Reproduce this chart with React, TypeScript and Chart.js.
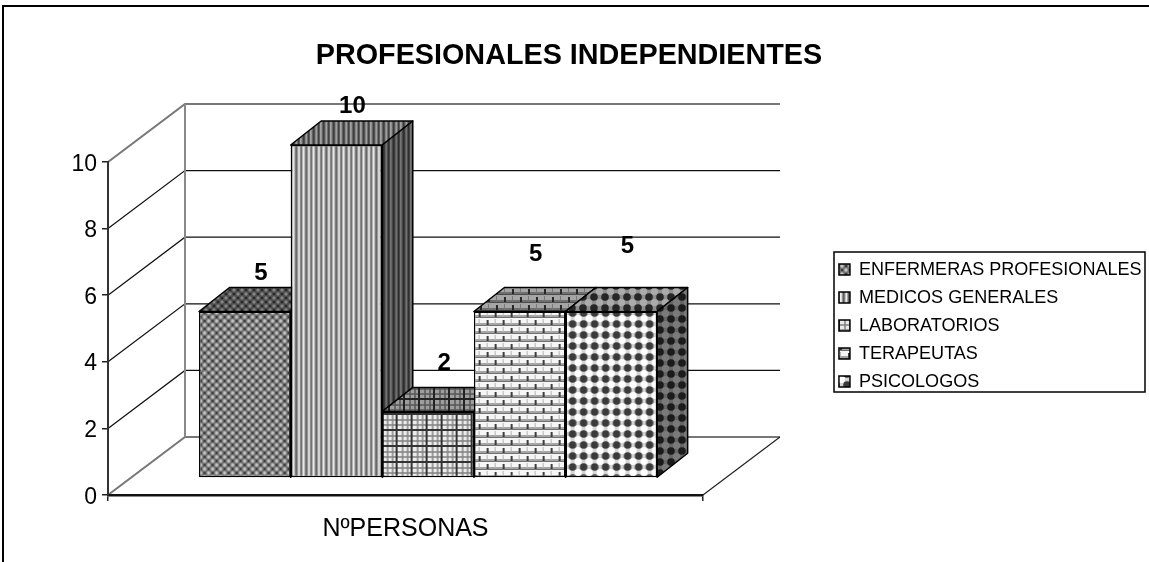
import React, { useEffect, useRef } from "react";
import { Chart, registerables } from "chart.js";

Chart.register(...registerables);

const categories = ["NºPERSONAS"];
const seriesNames = ["ENFERMERAS PROFESIONALES", "MEDICOS GENERALES", "LABORATORIOS", "TERAPEUTAS", "PSICOLOGOS"];
const seriesValues = [5, 10, 2, 5, 5];
const titleText = "PROFESIONALES INDEPENDIENTES";
const yTicks = [0, 2, 4, 6, 8, 10];

const FONT = "'Liberation Sans', Arial, sans-serif";
const WALL = { dx: 77, dy: -58 };
const BAR_SHIFT = { dx: 22.6, dy: -17 };
const BAR_DEPTH = { dx: 30.5, dy: -24 };
const LABEL_LIFT = [38, 39, 48, 57, 65];
const LABEL_SHIFT = 16;

type Painter = (c: CanvasRenderingContext2D, w: number, h: number) => void;

function tile(w: number, h: number, paint: Painter): HTMLCanvasElement {
  const t = document.createElement("canvas");
  t.width = w;
  t.height = h;
  const c = t.getContext("2d")!;
  paint(c, w, h);
  return t;
}

function spots(c: CanvasRenderingContext2D, w: number, h: number, x: number, y: number, r: number, color: string) {
  c.fillStyle = color;
  for (const ox of [-w, 0, w]) {
    for (const oy of [-h, 0, h]) {
      c.beginPath();
      c.arc(x + ox, y + oy, r, 0, Math.PI * 2);
      c.fill();
    }
  }
}

const paintWeave: Painter = (c, w, h) => {
  c.fillStyle = "#757575";
  c.fillRect(0, 0, w, h);
  spots(c, w, h, 2, 2, 1.7, "#c4c4c4");
  spots(c, w, h, 6, 6, 1.7, "#c4c4c4");
  spots(c, w, h, 2, 6, 1.3, "#3c3c3c");
  spots(c, w, h, 6, 2, 1.3, "#3c3c3c");
};

const paintStripes: Painter = (c, _w, h) => {
  const cols = ["#f2f2f2", "#d8d8d8", "#949494", "#5c5c5c", "#7c7c7c", "#c6c6c6", "#ececec", "#a6a6a6", "#626262", "#8a8a8a"];
  cols.forEach((col, i) => {
    c.fillStyle = col;
    c.fillRect(i, 0, 1, h);
  });
};

const paintPlaid: Painter = (c, w, h) => {
  c.fillStyle = "#ececec";
  c.fillRect(0, 0, w, h);
  c.fillStyle = "rgba(130,130,130,0.75)";
  for (const p of [4, 9]) {
    c.fillRect(p, 0, 2, h);
    c.fillRect(0, p, w, 2);
  }
  c.fillStyle = "#333333";
  c.fillRect(13, 0, 2, h);
  c.fillRect(0, 14, w, 2);
};

const paintBricks: Painter = (c, w, h) => {
  c.fillStyle = "#f6f6f6";
  c.fillRect(0, 0, w, h);
  c.fillStyle = "#a6a6a6";
  c.fillRect(0, 4, w, 3);
  c.fillRect(0, 12, w, 3);
  c.fillStyle = "#707070";
  c.fillRect(0, 6, w, 1);
  c.fillRect(0, 14, w, 1);
  c.fillStyle = "#3c3c3c";
  c.fillRect(0, 1, 2, 5);
  c.fillRect(8, 9, 2, 5);
  c.fillStyle = "#b4b4b4";
  c.fillRect(8, 0, 1, 5);
  c.fillRect(0, 8, 1, 5);
};

const paintDots: Painter = (c, w, h) => {
  c.fillStyle = "#d4d4d4";
  c.fillRect(0, 0, w, h);
  spots(c, w, h, 5.5, 5.5, 3.6, "#ffffff");
  spots(c, w, h, 0, 0, 3.8, "#3a3a3a");
};

const tileSpecs: [number, number, Painter][] = [
  [8, 8, paintWeave],
  [10, 4, paintStripes],
  [15, 16, paintPlaid],
  [16, 16, paintBricks],
  [11, 11, paintDots],
];

function polygon(ctx: CanvasRenderingContext2D, pts: number[][]) {
  ctx.beginPath();
  pts.forEach((p, i) => (i ? ctx.lineTo(p[0], p[1]) : ctx.moveTo(p[0], p[1])));
  ctx.closePath();
}

const stage3d = {
  id: "stage3d",
  beforeDraw(chart: any) {
    const { ctx, chartArea: a, scales } = chart;
    const yS = scales.y;
    ctx.save();
    ctx.fillStyle = "#fff";
    ctx.fillRect(0, 0, chart.width, chart.height);
    ctx.strokeStyle = "#000";
    ctx.lineWidth = 2;
    ctx.beginPath();
    ctx.moveTo(3, chart.height);
    ctx.lineTo(3, 6);
    ctx.lineTo(chart.width, 6);
    ctx.stroke();
    yTicks.forEach((v) => {
      const y = yS.getPixelForValue(v);
      ctx.strokeStyle = v === 0 || v === 10 ? "#777" : "#111";
      ctx.lineWidth = v === 0 || v === 10 ? 2 : 1.2;
      ctx.beginPath();
      ctx.moveTo(a.left, y);
      ctx.lineTo(a.left + WALL.dx, y + WALL.dy);
      ctx.lineTo(a.right + WALL.dx, y + WALL.dy);
      ctx.stroke();
    });
    ctx.strokeStyle = "#888";
    ctx.lineWidth = 2;
    ctx.beginPath();
    ctx.moveTo(a.left + WALL.dx, yS.getPixelForValue(0) + WALL.dy);
    ctx.lineTo(a.left + WALL.dx, yS.getPixelForValue(10) + WALL.dy);
    ctx.stroke();
    ctx.strokeStyle = "#222";
    ctx.lineWidth = 1.2;
    ctx.beginPath();
    ctx.moveTo(a.right, a.bottom);
    ctx.lineTo(a.right + WALL.dx, a.bottom + WALL.dy);
    ctx.stroke();
    ctx.restore();
  },
  afterLayout(chart: any) {
    const l = chart.legend;
    if (l) {
      l.left = 829;
      l.width = 316;
      l.right = l.left + l.width;
      l.top = 250.6;
      l.bottom = 520;
      l.height = l.bottom - l.top;
    }
    const t = chart.titleBlock;
    if (t) {
      t.left = 0;
      t.right = 1138;
      t.width = 1138;
    }
  },
  beforeDatasetsDraw(chart: any) {
    const ctx: CanvasRenderingContext2D = chart.ctx;
    chart.data.datasets.forEach((ds: any, i: number) => {
      const meta = chart.getDatasetMeta(i);
      const el = meta.data[0];
      const x0 = el.x - el.width / 2 + BAR_SHIFT.dx;
      const x1 = el.x + el.width / 2 + BAR_SHIFT.dx;
      const top = el.y + BAR_SHIFT.dy;
      const bot = el.base + BAR_SHIFT.dy;
      const d = BAR_DEPTH;
      const faces: [number[][], number][] = [
        [[[x0, top], [x1, top], [x1 + d.dx, top + d.dy], [x0 + d.dx, top + d.dy]], 0.33],
        [[[x1, top], [x1 + d.dx, top + d.dy], [x1 + d.dx, bot + d.dy], [x1, bot]], 0.52],
      ];
      faces.forEach(([pts, shade]) => {
        ctx.save();
        polygon(ctx, pts);
        ctx.fillStyle = ds.backgroundColor;
        ctx.fill();
        ctx.fillStyle = `rgba(0,0,0,${shade})`;
        ctx.fill();
        ctx.strokeStyle = "#000";
        ctx.lineWidth = 1.5;
        ctx.lineJoin = "round";
        ctx.stroke();
        ctx.restore();
      });
      ctx.save();
      ctx.translate(BAR_SHIFT.dx, BAR_SHIFT.dy);
      meta.controller.draw();
      ctx.restore();
    });
    ctx.save();
    ctx.fillStyle = "#000";
    ctx.font = `bold 24px ${FONT}`;
    ctx.textAlign = "center";
    ctx.textBaseline = "middle";
    chart.data.datasets.forEach((ds: any, i: number) => {
      const el = chart.getDatasetMeta(i).data[0];
      ctx.fillText(String(ds.data[0]), el.x + BAR_SHIFT.dx + LABEL_SHIFT, el.y + BAR_SHIFT.dy - LABEL_LIFT[i]);
    });
    ctx.restore();
    return false;
  },
  afterDraw(chart: any) {
    const { ctx } = chart;
    ctx.save();
    ctx.strokeStyle = "#000";
    ctx.lineWidth = 1.5;
    ctx.strokeRect(834, 252, 311, 140);
    ctx.restore();
  },
};

export default function App() {
  const ref = useRef<HTMLCanvasElement>(null);
  useEffect(() => {
    const canvas = ref.current!;
    const ctx = canvas.getContext("2d")!;
    const patterns = tileSpecs.map(([w, h, p]) => ctx.createPattern(tile(w, h, p), "repeat")!);
    const chart = new Chart(canvas, {
      type: "bar",
      data: {
        labels: categories,
        datasets: seriesNames.map((name, i) => ({
          label: name,
          data: [seriesValues[i]],
          backgroundColor: patterns[i],
          borderColor: "#000",
          borderWidth: 1.5,
          borderSkipped: false,
        })),
      },
      options: {
        animation: false,
        responsive: false,
        layout: { padding: { left: 0, right: 211.7, top: 0, bottom: 0 } },
        categoryPercentage: 0.77,
        barPercentage: 1,
        scales: {
          x: {
            grid: { drawOnChartArea: false, drawTicks: true, tickLength: 6, color: "#222", lineWidth: 1.5, offset: true },
            border: { color: "#111", width: 2.5 },
            ticks: { color: "#000", font: { family: FONT, size: 25 }, padding: 13 },
            afterFit: (s: any) => { s.height = 67; },
          },
          y: {
            min: 0,
            max: 10,
            grid: { drawOnChartArea: false, drawTicks: true, tickLength: 6, color: "#222", lineWidth: 1.5 },
            border: { color: "#333", width: 2 },
            ticks: {
              stepSize: 2,
              color: "#000",
              font: { family: FONT, size: 23, lineHeight: 0.2 },
              padding: 5,
              callback: (v: any) => ["", String(v)],
            },
            afterFit: (s: any) => { s.width = 108; },
          },
        },
        plugins: {
          title: {
            display: true,
            text: titleText,
            color: "#000",
            font: { family: FONT, size: 28.75, weight: "bold" },
            padding: { top: 39, bottom: 88.5 },
          },
          legend: {
            position: "right",
            align: "start",
            labels: {
              color: "#000",
              font: { family: FONT, size: 18.05 },
              boxWidth: 11,
              boxHeight: 11,
              padding: 9.95,
            },
          },
          tooltip: { enabled: false },
        },
      } as any,
      plugins: [stage3d as any],
    });
    return () => chart.destroy();
  }, []);
  return <canvas ref={ref} width={1149} height={562} style={{ position: "fixed", left: 0, top: 0, display: "block" }} />;
}
